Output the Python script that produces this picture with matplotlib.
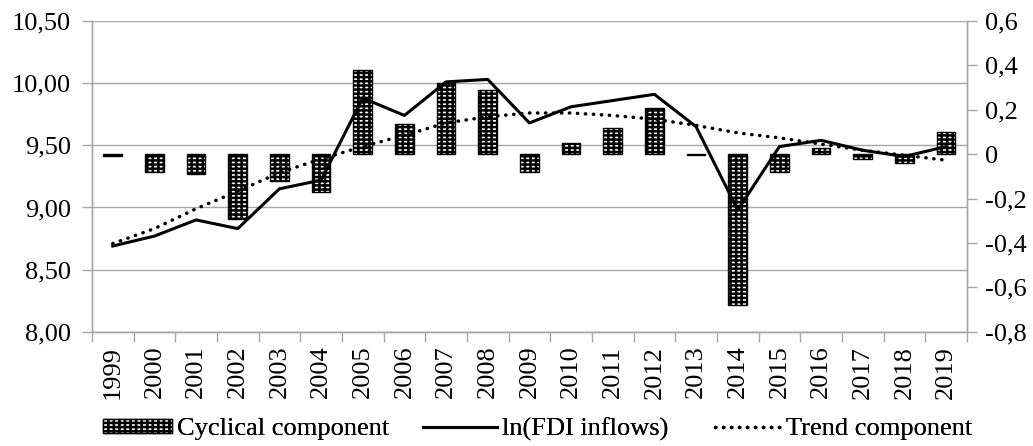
import matplotlib
matplotlib.use("Agg")
import matplotlib.pyplot as plt
from matplotlib.patches import Patch
from matplotlib.lines import Line2D
from matplotlib.ticker import FixedLocator, FuncFormatter

plt.rcParams["font.family"] = ["Liberation Serif", "DejaVu Serif"]
plt.rcParams["hatch.linewidth"] = 1.8

years = [str(y) for y in range(1999, 2020)]
ln_fdi = [8.69, 8.77, 8.90, 8.83, 9.15, 9.22, 9.88, 9.74, 10.01, 10.03, 9.68,
          9.81, 9.86, 9.91, 9.65, 8.98, 9.49, 9.54, 9.46, 9.41, 9.49]
trend = [8.71, 8.83, 8.99, 9.13, 9.28, 9.39, 9.49, 9.58, 9.68, 9.73, 9.76,
         9.76, 9.74, 9.71, 9.66, 9.60, 9.56, 9.51, 9.46, 9.42, 9.38]
cyclical = [-0.01, -0.08, -0.09, -0.29, -0.12, -0.17, 0.38, 0.135, 0.32, 0.29, -0.08,
            0.05, 0.12, 0.21, -0.005, -0.68, -0.08, 0.03, -0.02, -0.04, 0.10]

GRID = "#a6a6a6"
FS = 19
HATCH = "----|||"
DOTS = (0, (0.1, 2.2))

fig = plt.figure(figsize=(10.33, 4.46), dpi=100)
rect = [0.089, 0.256, 0.847, 0.697]
ax = fig.add_axes(rect)
ax2 = ax.twinx()
ax3 = fig.add_axes(rect, sharex=ax, sharey=ax)

x = list(range(len(years)))

# cyclical bars on the right-hand scale
ax2.bar(x, cyclical, width=0.45, facecolor="white", edgecolor="black",
        hatch=HATCH, linewidth=1.0, zorder=3)
ax2.set_ylim(-0.8, 0.6)
ax2.yaxis.set_major_locator(FixedLocator([-0.8, -0.6, -0.4, -0.2, 0, 0.2, 0.4, 0.6]))
ax2.yaxis.set_major_formatter(FuncFormatter(
    lambda v, _: "0" if abs(v) < 1e-9 else f"{v:.1f}".replace(".", ",")))
ax2.tick_params(axis="y", labelsize=FS, length=7, width=1, color=GRID, pad=6)

# lines drawn on top on the left scale
ax3.plot(x, ln_fdi, color="black", linewidth=2.2, zorder=4)
ax3.plot(x, trend, color="black", linewidth=2.5, linestyle=DOTS,
         dash_capstyle="round", zorder=4)
ax3.axis("off")
ax3.patch.set_visible(False)

ax.set_ylim(8.0, 10.5)
ax.set_xlim(-0.5, 20.5)
ax.yaxis.set_major_locator(FixedLocator([8.0, 8.5, 9.0, 9.5, 10.0, 10.5]))
ax.yaxis.set_major_formatter(FuncFormatter(lambda v, _: f"{v:.2f}".replace(".", ",")))
ax.yaxis.grid(True, color=GRID, linewidth=1)
ax.set_axisbelow(True)
ax.tick_params(axis="y", labelsize=FS, length=7, width=1, color=GRID, pad=8)

ax.set_xticks(x)
ax.set_xticklabels(years, rotation=90, fontsize=FS)
ax.set_xticks([i - 0.5 for i in range(len(years) + 1)], minor=True)
ax.tick_params(axis="x", which="major", length=0, pad=10)
ax.tick_params(axis="x", which="minor", length=7, width=1, color=GRID)

for a in (ax, ax2):
    a.spines["top"].set_visible(False)
    for s in ("left", "right", "bottom"):
        a.spines[s].set_color(GRID)
        a.spines[s].set_linewidth(1)

handles = [
    Patch(facecolor="white", edgecolor="black", hatch=HATCH, linewidth=1.0),
    Line2D([], [], color="black", linewidth=2.2),
    Line2D([], [], color="black", linewidth=2.5, linestyle=DOTS,
           dash_capstyle="round"),
]
labels = ["Cyclical component", "ln(FDI inflows)", "Trend component"]
anchors = [0.0997, 0.4095, 0.692]
lengths = [2.6, 2.8, 2.5]
for h, lab, xa, hl in zip(handles, labels, anchors, lengths):
    leg = fig.legend([h], [lab], loc="center left", bbox_to_anchor=(xa, 0.038),
                     frameon=False, fontsize=FS, handlelength=hl, handleheight=0.45,
                     handletextpad=0.2, borderpad=0, borderaxespad=0)
    fig.add_artist(leg)

fig.savefig("out.png", dpi=100)
